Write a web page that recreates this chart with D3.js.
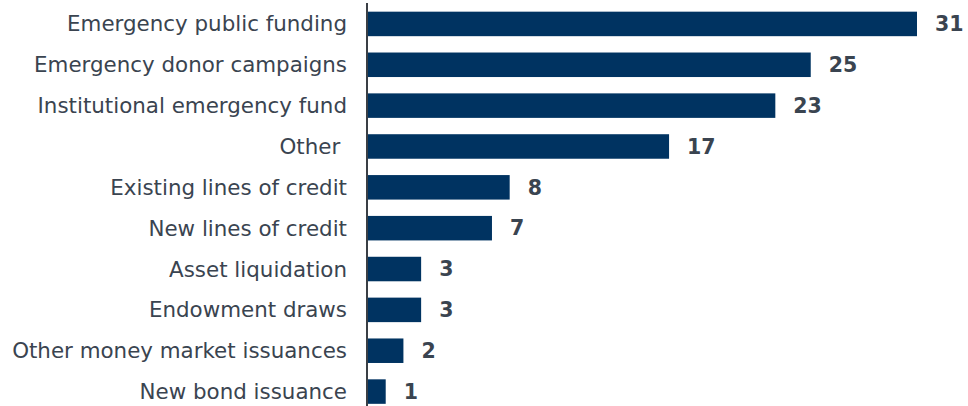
<!DOCTYPE html>
<html><head><meta charset="utf-8">
<script src="https://cdn.jsdelivr.net/npm/d3@7"></script>
<style>body{margin:0;background:#fff} text{white-space:pre}</style>
</head><body>
<svg id="c" width="968" height="406"></svg>
<script>
const categories = ["Emergency public funding","Emergency donor campaigns","Institutional emergency fund","Other ","Existing lines of credit","New lines of credit","Asset liquidation","Endowment draws","Other money market issuances","New bond issuance"];
const values = [31,25,23,17,8,7,3,3,2,1];

const svg = d3.select("#c");
const x0 = 368;
const x = d3.scaleLinear().domain([0,31]).range([x0, 917]);
const y = d3.scaleBand().domain(categories).range([3.5, 412]).paddingInner(0.4).paddingOuter(0.2);

svg.selectAll("rect.bar").data(values).join("rect")
  .attr("x", x(0)).attr("y",(d,i)=>y(categories[i]))
  .attr("width", d=>x(d)-x(0)).attr("height", y.bandwidth())
  .attr("fill","#003361");

svg.selectAll("text.cat").data(categories).join("text")
  .attr("x", 347).attr("y", d=>y(d)+y.bandwidth()/2)
  .attr("dy","0.35em").attr("text-anchor","end")
  .attr("font-family","Verdana, 'DejaVu Sans', sans-serif").attr("font-size",21.4)
  .attr("fill","#3a4450").text(d=>d);

svg.selectAll("text.val").data(values).join("text")
  .attr("x", d=>x(d)+18).attr("y",(d,i)=>y(categories[i])+y.bandwidth()/2)
  .attr("dy","0.35em")
  .attr("font-family","Verdana, 'DejaVu Sans', sans-serif").attr("font-size",20.5).attr("font-weight","bold")
  .attr("fill","#3a4450").text(d=>d);

svg.append("line").attr("x1",367).attr("x2",367).attr("y1",3).attr("y2",406)
  .attr("stroke","#3a3f45").attr("stroke-width",2);
</script>
</body></html>
